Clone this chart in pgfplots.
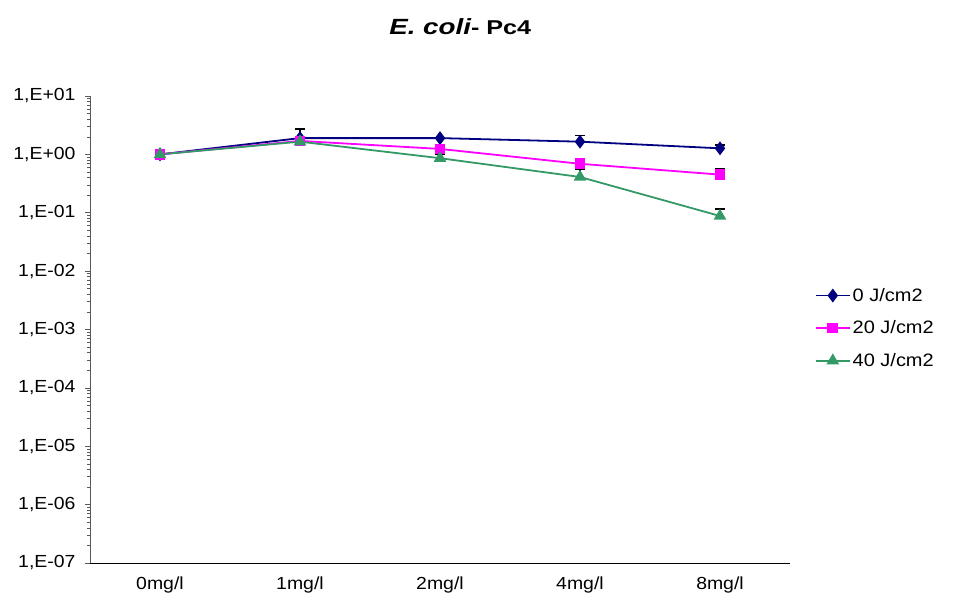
\documentclass[border=0pt]{standalone}
\usepackage{fontspec}
\setmainfont{Liberation Sans}[FakeStretch=1.11]
\newfontfamily\titlefont{Liberation Sans}[FakeStretch=1.26]
\usepackage{pgfplots}
\pgfplotsset{compat=1.18}
\definecolor{cnavy}{HTML}{000080}
\definecolor{cmag}{HTML}{FF00FF}
\definecolor{cgreen}{HTML}{339966}
\begin{document}
\begin{tikzpicture}
\path[use as bounding box] (-90pt,-44pt) rectangle (864pt,563pt);
\begin{axis}[
  at={(0,0)}, anchor=south west,
  scale only axis, width=700pt, height=467pt,
  ymode=log, ymin=1e-7, ymax=10,
  xmin=0, xmax=5,
  axis x line*=bottom, axis y line*=left,
  x axis line style={black, line width=0.8pt, -},
  y axis line style={gray!70!black, line width=0.8pt, -},
  xtick={0.5,1.5,2.5,3.5,4.5},
  xticklabels={0mg/l,1mg/l,2mg/l,4mg/l,8mg/l},
  xtick style={draw=none},
  extra x ticks={0,1,2,3,4,5},
  extra x tick labels={},
  extra x tick style={tick style={draw=black, line width=0.6pt}, major tick length=8pt, tick align=outside},
  ytick={1e-7,1e-6,1e-5,1e-4,1e-3,1e-2,1e-1,1,10},
  yticklabels={{1,E-07},{1,E-06},{1,E-05},{1,E-04},{1,E-03},{1,E-02},{1,E-01},{1,E+00},{1,E+01}},
  tick align=outside,
  ytick style={gray!70!black, line width=0.6pt},
  major tick length=5pt, minor tick length=3pt,
  tick label style={font=\fontsize{17.5}{20}\selectfont},
  yticklabel style={xshift=-6pt},
  xticklabel style={yshift=-5pt},
  /pgf/number format/assume math mode=true,
  every axis plot/.append style={line width=1.8pt},
  error bars/y dir=plus, error bars/y explicit,
  error bars/error bar style={black, line width=1.2pt},
  error bars/error mark options={rotate=90, mark size=5pt, black, line width=1.6pt},
  legend style={at={(1.031,0.503)}, anchor=west, draw=none, fill=none,
    font=\fontsize{18}{20}\selectfont, row sep=14pt,
    /tikz/every even column/.append style={column sep=3pt}},
  legend cell align=left,
  legend image code/.code={\draw[#1] (0pt,0pt) -- (34pt,0pt); \draw[#1, only marks] plot coordinates {(17pt,0pt)};},
  clip=false,
]
\addplot[cnavy, mark=diamond*, mark size=5.5pt, mark options={fill=cnavy}] coordinates {
  (0.5,1.0) +- (0,0.05)
  (1.5,1.9) +- (0,0.82)
  (2.5,1.9) +- (0,0.0)
  (3.5,1.65) +- (0,0.44)
  (4.5,1.27) +- (0,0.18)
};
\addlegendentry{0 J/cm2}
\addplot[cmag, mark=square*, mark size=4.5pt, mark options={fill=cmag}] coordinates {
  (0.5,1.0) +- (0,0.05)
  (1.5,1.7) +- (0,0.05)
  (2.5,1.24) +- (0,0.12)
  (3.5,0.69) +- (0,0.05)
  (4.5,0.45) +- (0,0.12)
};
\addlegendentry{20 J/cm2}
\addplot[cgreen, mark=triangle*, mark size=5.5pt, mark options={fill=cgreen}] coordinates {
  (0.5,1.0) +- (0,0.05)
  (1.5,1.65) +- (0,0.05)
  (2.5,0.86) +- (0,0.14)
  (3.5,0.41) +- (0,0.146)
  (4.5,0.088) +- (0,0.029)
};
\addlegendentry{40 J/cm2}
\node[anchor=base] at (rel axis cs:0.529,1.131) {\titlefont\fontsize{22}{26}\selectfont\bfseries\itshape E. coli\upshape\fontsize{20}{22}\selectfont- Pc4};
\end{axis}
\end{tikzpicture}
\end{document}
